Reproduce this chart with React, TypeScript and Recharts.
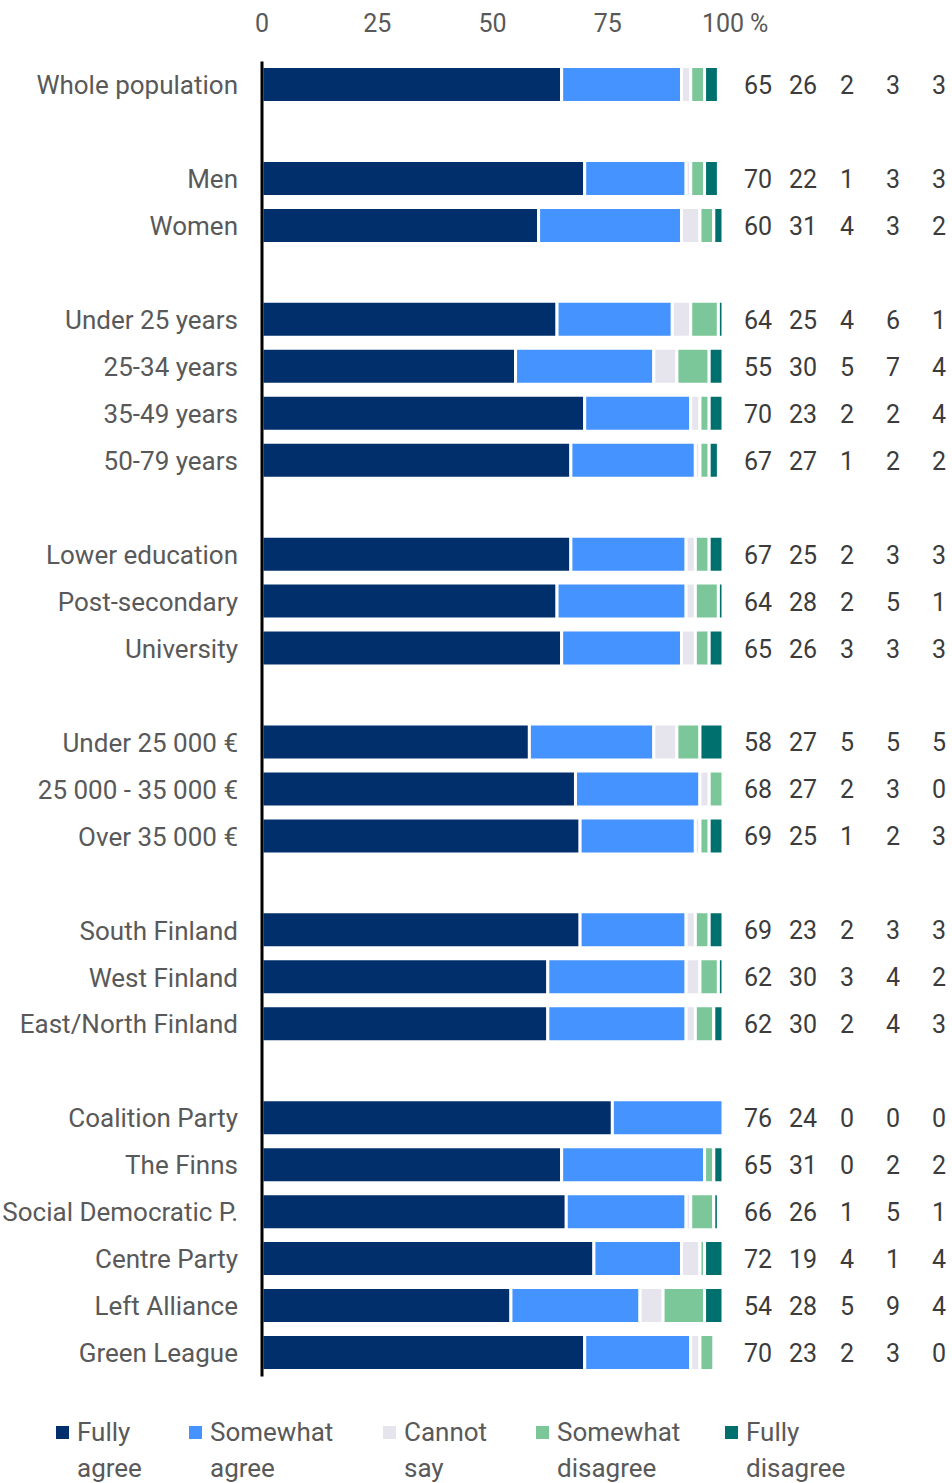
import { Bar, BarChart, XAxis, YAxis } from 'recharts'

const categories = [
  'Whole population',
  'Men',
  'Women',
  'Under 25 years',
  '25-34 years',
  '35-49 years',
  '50-79 years',
  'Lower education',
  'Post-secondary',
  'University',
  'Under 25 000 €',
  '25 000 - 35 000 €',
  'Over 35 000 €',
  'South Finland',
  'West Finland',
  'East/North Finland',
  'Coalition Party',
  'The Finns',
  'Social Democratic P.',
  'Centre Party',
  'Left Alliance',
  'Green League',
]

// how many categories in each block; an empty row separates the blocks
const groupSizes = [1, 2, 4, 3, 3, 3, 6]

const fullyAgree = [65, 70, 60, 64, 55, 70, 67, 67, 64, 65, 58, 68, 69, 69, 62, 62, 76, 65, 66, 72, 54, 70]
const somewhatAgree = [26, 22, 31, 25, 30, 23, 27, 25, 28, 26, 27, 27, 25, 23, 30, 30, 24, 31, 26, 19, 28, 23]
const cannotSay = [2, 1, 4, 4, 5, 2, 1, 2, 2, 3, 5, 2, 1, 2, 3, 2, 0, 0, 1, 4, 5, 2]
const somewhatDisagree = [3, 3, 3, 6, 7, 2, 2, 3, 5, 3, 5, 3, 2, 3, 4, 4, 0, 2, 5, 1, 9, 3]
const fullyDisagree = [3, 3, 2, 1, 4, 4, 2, 3, 1, 3, 5, 0, 3, 3, 2, 3, 0, 2, 1, 4, 4, 0]

const xTicks = [0, 25, 50, 75, 100]

const series = [
  { key: 'fullyAgree', legend: ['Fully', 'agree'], color: '#002f6c', values: fullyAgree },
  { key: 'somewhatAgree', legend: ['Somewhat', 'agree'], color: '#4493ff', values: somewhatAgree },
  { key: 'cannotSay', legend: ['Cannot', 'say'], color: '#e6e4ec', values: cannotSay },
  { key: 'somewhatDisagree', legend: ['Somewhat', 'disagree'], color: '#7cc799', values: somewhatDisagree },
  { key: 'fullyDisagree', legend: ['Fully', 'disagree'], color: '#00706e', values: fullyDisagree },
]

type Row = { id: string; label: string; idx?: number; [k: string]: string | number | undefined }

const rows: Row[] = []
let cursor = 0
groupSizes.forEach((size, g) => {
  if (g > 0) rows.push({ id: `gap-${g}`, label: '' })
  for (let k = 0; k < size; k++, cursor++) {
    const row: Row = { id: categories[cursor], label: categories[cursor], idx: cursor }
    series.forEach(s => {
      row[s.key] = s.values[cursor]
    })
    rows.push(row)
  }
})
const rowById: Record<string, Row> = Object.fromEntries(rows.map(r => [r.id, r]))

const FONT = 'Roboto, sans-serif'
const valueOffsets = [35, 80, 124, 170, 216]
const legendLefts = [56, 189, 383, 536, 725]

function PercentTick({ x, y, payload }: any) {
  return (
    <g>
      <text x={x} y={y} textAnchor="middle" fill="#595959" fontSize={25} fontFamily={FONT}>
        {payload.value}
      </text>
      {payload.value === 100 && (
        <text x={x + 27} y={y} textAnchor="start" fill="#595959" fontSize={25} fontFamily={FONT}>
          %
        </text>
      )}
    </g>
  )
}

function ValuesTick({ x, y, payload }: any) {
  const row = rowById[payload.value]
  if (!row || row.idx === undefined) return null
  const i = row.idx
  return (
    <g>
      {series.map((s, j) => (
        <text
          key={s.key}
          x={x + valueOffsets[j]}
          y={y}
          dy="0.36em"
          textAnchor="middle"
          fill="#3c3c3c"
          fontSize={25}
          fontFamily={FONT}
        >
          {s.values[i]}
        </text>
      ))}
    </g>
  )
}

export default function App() {
  return (
    <div style={{ position: 'absolute', left: 0, top: 0, width: 952, height: 1483, background: '#fff' }}>
      <BarChart
        width={952}
        height={1400}
        data={rows}
        layout="vertical"
        barCategoryGap={0}
        margin={{ top: 21.5, right: 0, bottom: 23.5, left: 0 }}
      >
        <XAxis
          type="number"
          orientation="top"
          domain={[0, 100]}
          ticks={xTicks}
          allowDataOverflow
          axisLine={false}
          tickLine={false}
          tickSize={0}
          tickMargin={30}
          height={40}
          tick={<PercentTick />}
        />
        <YAxis
          yAxisId="left"
          type="category"
          dataKey="id"
          width={262}
          tickLine={false}
          tickSize={0}
          tickMargin={24}
          interval={0}
          axisLine={{ stroke: '#000', strokeWidth: 3 }}
          tickFormatter={(id: string) => rowById[id]?.label ?? ''}
          tick={{ fill: '#595959', fontSize: 26, fontFamily: FONT }}
        />
        <YAxis
          yAxisId="right"
          orientation="right"
          type="category"
          dataKey="id"
          width={229}
          tickLine={false}
          tickSize={0}
          tickMargin={0}
          interval={0}
          axisLine={false}
          tick={<ValuesTick />}
        />
        {series.map(s => (
          <Bar
            key={s.key}
            yAxisId="left"
            dataKey={s.key}
            stackId="a"
            fill={s.color}
            stroke="#fff"
            strokeWidth={3}
            barSize={36}
            isAnimationActive={false}
          />
        ))}
      </BarChart>
      <div style={{ position: 'absolute', top: 1414, left: 0, width: 952, height: 69 }}>
        {series.map((s, j) => (
          <div
            key={s.key}
            style={{
              position: 'absolute',
              left: legendLefts[j],
              top: 0,
              display: 'flex',
              alignItems: 'flex-start',
              fontFamily: FONT,
              fontSize: 26,
              lineHeight: '36px',
              color: '#595959',
            }}
          >
            <span style={{ display: 'inline-block', width: 13, height: 13, background: s.color, marginTop: 12, marginRight: 8 }} />
            <span>
              {s.legend[0]}
              <br />
              {s.legend[1]}
            </span>
          </div>
        ))}
      </div>
    </div>
  )
}
